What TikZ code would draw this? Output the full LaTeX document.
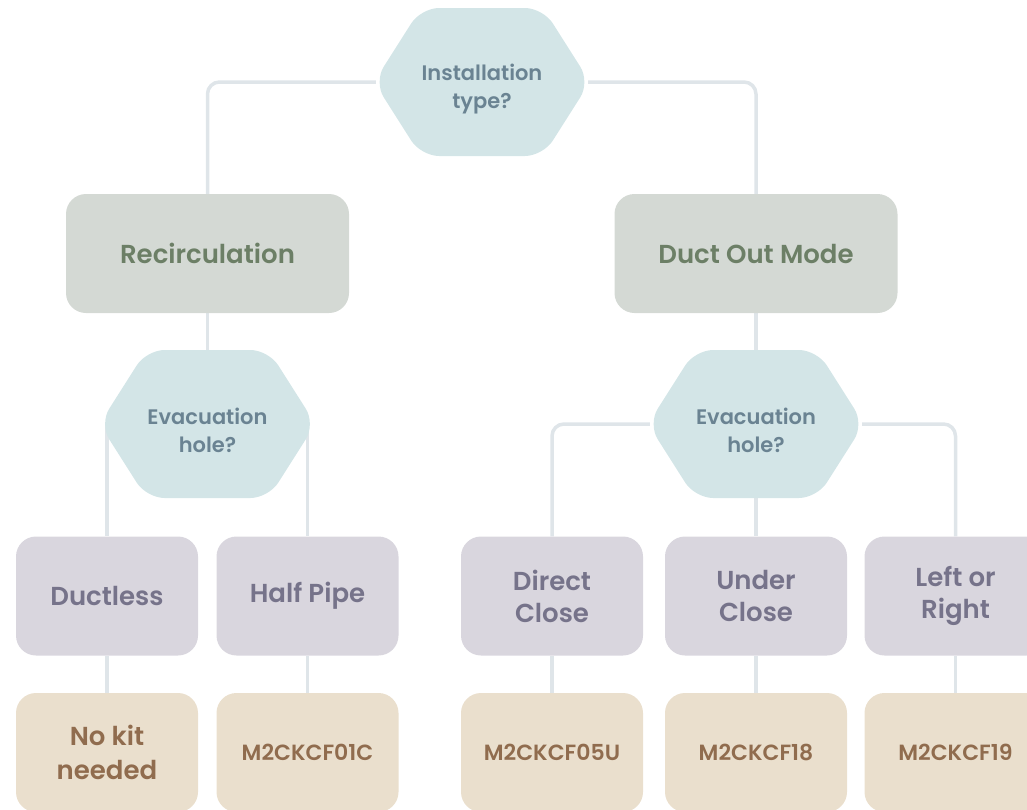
\documentclass[tikz,border=0pt]{standalone}
\usepackage{fontspec}
\setmainfont{Poppins}[BoldFont={Poppins SemiBold}]
\usetikzlibrary{calc}
\definecolor{hexfillc}{HTML}{D3E5E7}
\definecolor{hextext}{HTML}{6A8392}
\definecolor{greenfill}{HTML}{D4D9D4}
\definecolor{greentext}{HTML}{6C7F66}
\definecolor{lavfill}{HTML}{D9D6DE}
\definecolor{lavtext}{HTML}{76738A}
\definecolor{kitfill}{HTML}{EADFCD}
\definecolor{kittext}{HTML}{906C4E}
\definecolor{connc}{HTML}{DFE5E9}
\pgfdeclarelayer{bg}\pgfdeclarelayer{mid}\pgfsetlayers{bg,mid,main}
\tikzset{
  hexnode/.style={rectangle, minimum width=212pt, minimum height=148pt, inner sep=0pt, align=center,
    text=hextext, font=\bfseries\fontsize{21}{28}\selectfont},
  bigbox/.style={rectangle, rounded corners=20pt, fill=greenfill, text=greentext, minimum width=283pt,
    minimum height=119pt, inner sep=0pt, align=center, font=\bfseries\fontsize{26}{32}\selectfont},
  optbox/.style={rectangle, rounded corners=20pt, fill=lavfill, text=lavtext, minimum width=182pt,
    minimum height=119pt, inner sep=0pt, align=center, font=\bfseries\fontsize{26}{32}\selectfont},
  kitbox/.style={rectangle, rounded corners=20pt, fill=kitfill, text=kittext, minimum width=182pt,
    minimum height=119pt, inner sep=0pt, align=center, font=\bfseries\fontsize{26}{34}\selectfont},
  codetext/.style={font=\bfseries\fontsize{22}{24}\selectfont},
  conn/.style={draw=connc, line width=3.5pt},
  hexshape/.style={fill=hexfillc, rounded corners=18pt}
}
\newcommand\hexfillat[1]{%
  \begin{pgfonlayer}{mid}
  \path[hexshape] ($(#1)+(-108,0)$) -- ($(#1)+(-61,-74)$) -- ($(#1)+(61,-74)$) -- ($(#1)+(108,0)$)
    -- ($(#1)+(61,74)$) -- ($(#1)+(-61,74)$) -- cycle;
  \end{pgfonlayer}}
\newcommand\lowstrut{\rule{0pt}{30pt}}
\begin{document}
\begin{tikzpicture}[x=1pt,y=-1pt]
\useasboundingbox (0,0) rectangle (1027,809);
\clip (0,0) rectangle (1027,809);
% decision nodes
\node[hexnode] (q1) at (482,82) {\lowstrut Installation\\type?};
\node[hexnode] (q2) at (207.5,424) {\lowstrut Evacuation\\hole?};
\node[hexnode] (q3) at (756,424) {\lowstrut Evacuation\\hole?};
\hexfillat{q1}\hexfillat{q2}\hexfillat{q3}
% modes
\node[bigbox] (rec) at (207.5,253.5) {Recirculation};
\node[bigbox] (duct) at (756,253.5) {Duct Out Mode};
% options
\node[optbox] (b1) at (107,596) {Ductless};
\node[optbox] (b2) at (307.5,596) {Half Pipe};
\node[optbox] (b3) at (552,596) {Direct\\Close};
\node[optbox] (b4) at (756,596) {Under\\Close};
\node[optbox] (b5) at (955.5,596) {Left or\\Right};
% kits
\node[kitbox] (k1) at (107,752.5) {No kit\\needed};
\node[kitbox, codetext] (k2) at (307.5,752.5) {M2CKCF01C};
\node[kitbox, codetext] (k3) at (552,752.5) {M2CKCF05U};
\node[kitbox, codetext] (k4) at (756,752.5) {M2CKCF18};
\node[kitbox, codetext] (k5) at (955.5,752.5) {M2CKCF19};
% connectors
\begin{pgfonlayer}{bg}
\draw[conn, rounded corners=12pt] (q1.west) -| (rec.north);
\draw[conn, rounded corners=12pt] (q1.east) -| (duct.north);
\draw[conn] (rec.south) -- (q2.north);
\draw[conn] (duct.south) -- (q3.north);
\draw[conn] (q2.center) -| (b1.north);
\draw[conn] (q2.center) -| (b2.north);
\draw[conn, rounded corners=12pt] (q3.west) -| (b3.north);
\draw[conn, rounded corners=12pt] (q3.east) -| (b5.north);
\draw[conn] (q3.south) -- (b4.north);
\draw[conn] (b1.south) -- (k1.north);
\draw[conn] (b2.south) -- (k2.north);
\draw[conn] (b3.south) -- (k3.north);
\draw[conn] (b4.south) -- (k4.north);
\draw[conn] (b5.south) -- (k5.north);
\end{pgfonlayer}
\end{tikzpicture}
\end{document}
